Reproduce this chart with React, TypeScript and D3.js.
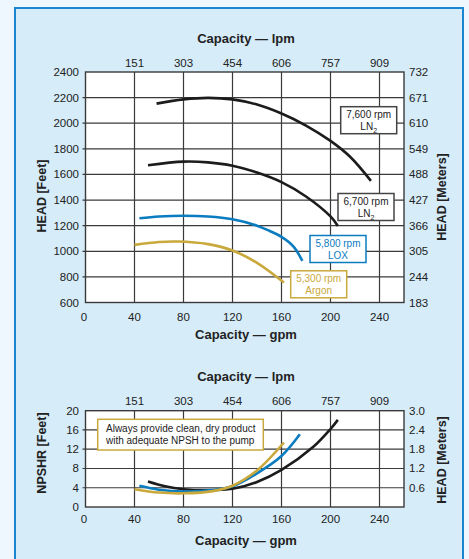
import React from "react";
import * as d3 from "d3";

// pump curves (gpm, feet)
const ln2_7600 = [[58, 2153], [80, 2186], [100, 2198], [120, 2186], [140, 2146], [160, 2076], [180, 1982], [200, 1862], [216, 1738], [233, 1550]];
const ln2_6700 = [[51, 1672], [80, 1700], [100, 1694], [120, 1668], [140, 1615], [160, 1540], [180, 1428], [200, 1272], [206, 1198]];
const lox_5800 = [[44, 1258], [60, 1272], [80, 1278], [100, 1272], [120, 1250], [140, 1200], [150, 1160], [160, 1112], [170, 1035], [177, 925]];
const argon_5300 = [[40, 1050], [60, 1072], [75, 1076], [100, 1056], [120, 1006], [140, 910], [162, 756]];

// NPSHR curves (gpm, feet)
const npsh_ln2 = [[51, 5.3], [65, 4.3], [80, 3.7], [100, 3.5], [120, 3.8], [140, 5.2], [160, 7.7], [186, 12.5], [200, 16.2], [206, 18.1]];
const npsh_lox = [[44, 4.4], [60, 3.6], [80, 3.2], [104, 3.5], [120, 4.3], [140, 7.0], [160, 10.6], [175, 15.1]];
const npsh_argon = [[40, 3.7], [60, 3.0], [80, 2.85], [104, 3.3], [120, 4.4], [140, 7.6], [162, 13.4]];

const gpmTicks = [0, 40, 80, 120, 160, 200, 240];
const lpmLabels = ["151", "303", "454", "606", "757", "909"];
const headTicks = [600, 800, 1000, 1200, 1400, 1600, 1800, 2000, 2200, 2400];
const headMeters = ["183", "244", "305", "366", "427", "488", "549", "610", "671", "732"];
const npshTicks = [0, 4, 8, 12, 16, 20];
const npshMeters = ["", "0.6", "1.2", "1.8", "2.4", "3.0"];

const BLACK = "#1c1c1c";
const BLUE = "#0b7cc0";
const GOLD = "#c9a83c";
const GRID = "#3a3a3a";
const FONT = "'Liberation Sans', Arial, Helvetica, sans-serif";

const x = d3.scaleLinear().domain([0, 260]).range([85.5, 404]);
const yTop = d3.scaleLinear().domain([600, 2400]).range([302.5, 72]);
const yBot = d3.scaleLinear().domain([0, 20]).range([507, 410.7]);

const curve = d3.curveCatmullRom.alpha(0.5);
const lineTop = d3.line<number[]>().x(d => x(d[0])).y(d => yTop(d[1])).curve(curve);
const lineBot = d3.line<number[]>().x(d => x(d[0])).y(d => yBot(d[1])).curve(curve);

function Frame({ y, ticks, rightLabels, topY, titleY, bottomY, gpmTitleY, leftTitle, rightTitle, leftTitleY, rightTitleY }) {
  const [y0, y1] = y.range();
  const [x0, x1] = x.range();
  return (
    <g fontFamily={FONT}>
      <rect x={x0} y={y1} width={x1 - x0} height={y0 - y1} fill="#fff" />
      {gpmTicks.slice(1).map(t => (
        <line key={"v" + t} x1={x(t)} x2={x(t)} y1={y1} y2={y0} stroke={GRID} strokeWidth={1.2} />
      ))}
      {ticks.slice(1, -1).map(t => (
        <line key={"h" + t} x1={x0 - 3} x2={x1} y1={y(t)} y2={y(t)} stroke={GRID} strokeWidth={1.2} />
      ))}
      <rect x={x0} y={y1} width={x1 - x0} height={y0 - y1} fill="none" stroke={GRID} strokeWidth={1.4} />
      {ticks.map(t => (
        <text key={"l" + t} x={79} y={y(t) + 4} textAnchor="end" fontSize={11.5} fill="#222">{t}</text>
      ))}
      {ticks.map((t, i) => (
        <text key={"r" + t} x={409} y={y(t) + 4} fontSize={11.5} fill="#222">{rightLabels[i]}</text>
      ))}
      {gpmTicks.map(t => (
        <text key={"b" + t} x={x(t) - (t === 0 ? 1.5 : 0)} y={bottomY} textAnchor="middle" fontSize={11.5} fill="#222">{t}</text>
      ))}
      {lpmLabels.map((l, i) => (
        <text key={"t" + l} x={x(gpmTicks[i + 1])} y={topY} textAnchor="middle" fontSize={11.5} fill="#222">{l}</text>
      ))}
      <text x={246} y={titleY} textAnchor="middle" fontSize={13} fontWeight="bold" fill="#222">Capacity — lpm</text>
      <text x={246} y={gpmTitleY} textAnchor="middle" fontSize={13} fontWeight="bold" fill="#222">Capacity — gpm</text>
      <text transform={`translate(46,${leftTitleY}) rotate(-90)`} textAnchor="middle" fontSize={12.5} fontWeight="bold" fill="#222">{leftTitle}</text>
      <text transform={`translate(446,${rightTitleY}) rotate(-90)`} textAnchor="middle" fontSize={12.5} fontWeight="bold" fill="#222">{rightTitle}</text>
    </g>
  );
}

function Label({ bx, by, color, textColor, line1, line2, sub }) {
  const cx = bx + 28;
  return (
    <g fontFamily={FONT} fontSize={10}>
      <rect x={bx} y={by} width={56} height={27} fill="#fff" stroke={color} strokeWidth={1.5} />
      <text x={cx} y={by + 11.5} textAnchor="middle" fill={textColor}>{line1}</text>
      <text x={cx} y={by + 23.5} textAnchor="middle" fill={textColor}>
        {line2}{sub && <tspan fontSize={7} dy={2.5}>{sub}</tspan>}
      </text>
    </g>
  );
}

export default function App() {
  return (
    <svg width={469} height={559} style={{ position: "absolute", left: 0, top: 0 }}>
      <rect x={0} y={0} width={469} height={559} fill="#eef7fd" />
      <rect x={15} y={8} width={448} height={570} fill="#d6ecf9" stroke="#1b86d0" strokeWidth={2} />

      <Frame y={yTop} ticks={headTicks} rightLabels={headMeters} topY={67} titleY={43} bottomY={320.5}
        gpmTitleY={339} leftTitle="HEAD [Feet]" rightTitle="HEAD [Meters]" leftTitleY={196} rightTitleY={197} />
      <Frame y={yBot} ticks={npshTicks} rightLabels={npshMeters} topY={405} titleY={381} bottomY={523}
        gpmTitleY={545} leftTitle="NPSHR [Feet]" rightTitle="HEAD [Meters]" leftTitleY={453} rightTitleY={460} />

      <g fill="none" strokeWidth={2.6} strokeLinecap="butt">
        <path d={lineTop(ln2_7600)} stroke={BLACK} />
        <path d={lineTop(ln2_6700)} stroke={BLACK} />
        <path d={lineTop(lox_5800)} stroke={BLUE} />
        <path d={lineTop(argon_5300)} stroke={GOLD} />
        <path d={lineBot(npsh_ln2)} stroke={BLACK} />
        <path d={lineBot(npsh_lox)} stroke={BLUE} />
        <path d={lineBot(npsh_argon)} stroke={GOLD} />
      </g>

      <Label bx={340.7} by={106.7} color="#444" textColor="#222" line1="7,600 rpm" line2="LN" sub="2" />
      <Label bx={338} by={193.5} color="#444" textColor="#222" line1="6,700 rpm" line2="LN" sub="2" />
      <Label bx={310} by={235.5} color={BLUE} textColor={BLUE} line1="5,800 rpm" line2="LOX" sub={null} />
      <Label bx={290.7} by={270.8} color={GOLD} textColor={GOLD} line1="5,300 rpm" line2="Argon" sub={null} />

      <g fontFamily={FONT} fontSize={10} fill="#222">
        <rect x={97.7} y={419.3} width={165.6} height={30.7} fill="#fff" stroke={GOLD} strokeWidth={1.5} />
        <text x={106} y={431.8}>Always provide clean, dry product</text>
        <text x={106} y={443.6}>with adequate NPSH to the pump</text>
      </g>
    </svg>
  );
}
